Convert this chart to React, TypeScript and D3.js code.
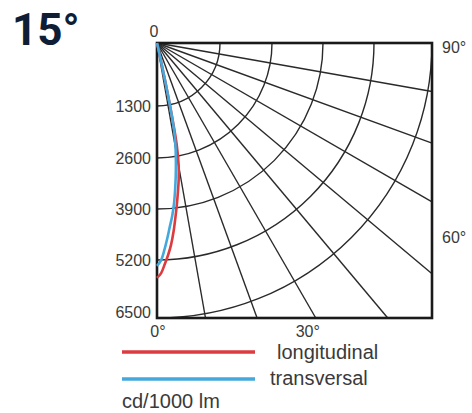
import * as d3 from "d3";
import React from "react";

// radial axis: cd/1000 lm
const radialTicks = [0, 1300, 2600, 3900, 5200, 6500];
const radialPx = [0, 63, 115, 166, 217, 275];

// grid rays, degrees from nadir
const rayAngles = [0, 10, 20, 30, 40, 50, 60, 70, 80, 90];

// curve samples: angle (deg) -> intensity
const angles = [0, 1, 2, 3, 4, 5, 6, 7, 8, 9, 10, 11, 11.5, 12, 12.5, 13, 14];
const longitudinal = [5600, 5500, 5300, 5080, 4820, 4500, 4150, 3820, 3500, 3200, 2850, 2300, 1700, 1000, 400, 100, 0];
const transversal = [5330, 5220, 4960, 4660, 4360, 4100, 3800, 3450, 3100, 2750, 2400, 2000, 1600, 1000, 400, 100, 0];

const W = 472;
const H = 413;
const ox = 157;
const oy = 43;

const r = d3.scaleLinear().domain(radialTicks).range(radialPx);
const side = r(6500);

const toXY = (deg: number, v: number): [number, number] => {
  const t = (deg * Math.PI) / 180;
  return [ox + r(v) * Math.sin(t), oy + r(v) * Math.cos(t)];
};

const curve = (vals: number[]) =>
  d3
    .line<number>()
    .x((_, i) => toXY(angles[i], vals[i])[0])
    .y((_, i) => toXY(angles[i], vals[i])[1])
    .curve(d3.curveCatmullRom)(vals) || "";

// stretch a ray until it hits the square box
const rayEnd = (deg: number): [number, number] => {
  const t = (deg * Math.PI) / 180;
  const len = side / Math.max(Math.sin(t), Math.cos(t));
  return [ox + len * Math.sin(t), oy + len * Math.cos(t)];
};

const arcPath = (v: number) => {
  const p = d3.path();
  const rr = r(v);
  p.moveTo(ox, oy + rr);
  p.arc(ox, oy, rr, Math.PI / 2, 0, true);
  return p.toString();
};

const RED = "#dc3b3f";
const BLUE = "#45a8dc";
const GRID = "#2a2a2a";
const LABEL = "#3a3a3a";

export default function App() {
  return (
    <svg
      width={W}
      height={H}
      style={{ position: "absolute", left: 0, top: 0, background: "#fff" }}
      fontFamily="Liberation Sans, Arial, sans-serif"
    >
      <text x={12} y={45} fontFamily="Roboto, sans-serif" fontWeight={700} fontSize={44} fill="#0f1d35">
        15°
      </text>

      {/* grid */}
      <g stroke={GRID} strokeWidth={1.4} fill="none">
        {rayAngles.slice(1, -1).map((a) => {
          const [x2, y2] = rayEnd(a);
          return <line key={a} x1={ox} y1={oy} x2={x2} y2={y2} />;
        })}
        {radialTicks.slice(1).map((v) => (
          <path key={v} d={arcPath(v)} />
        ))}
      </g>
      <rect x={ox} y={oy} width={side} height={side} fill="none" stroke="#1a1a1a" strokeWidth={2.6} />

      {/* curves */}
      <path d={curve(longitudinal)} fill="none" stroke={RED} strokeWidth={2.6} />
      <path d={curve(transversal)} fill="none" stroke={BLUE} strokeWidth={2.6} />

      {/* labels */}
      <g fill={LABEL} fontSize={16}>
        <text x={ox - 3} y={oy - 6} textAnchor="middle">0</text>
        {radialTicks.slice(1).map((v) => (
          <text key={v} x={ox - 6} y={v === 6500 ? oy + side : oy + r(v) + 6} textAnchor="end">
            {v}
          </text>
        ))}
        <text x={ox + 1} y={oy + side + 19} textAnchor="middle">0°</text>
        <text x={rayEnd(30)[0] - 8} y={oy + side + 19} textAnchor="middle">30°</text>
        <text x={ox + side + 10} y={oy + 10}>90°</text>
        <text x={ox + side + 10} y={oy + 200}>60°</text>
      </g>

      {/* legend */}
      <line x1={122} x2={255} y1={352} y2={352} stroke={RED} strokeWidth={3.5} />
      <line x1={122} x2={255} y1={379} y2={379} stroke={BLUE} strokeWidth={3.5} />
      <g fill={LABEL} fontSize={20}>
        <text x={277} y={359}>longitudinal</text>
        <text x={270} y={385}>transversal</text>
        <text x={122} y={408}>cd/1000 lm</text>
      </g>
    </svg>
  );
}
